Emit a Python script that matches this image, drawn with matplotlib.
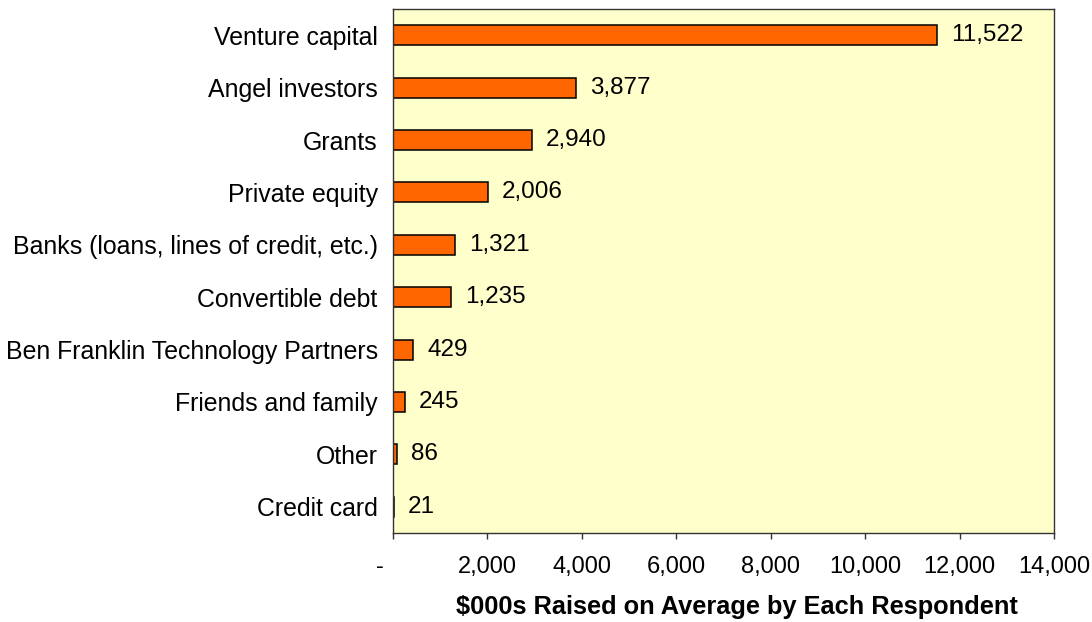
import matplotlib
matplotlib.use("Agg")
import matplotlib.pyplot as plt

# Average amount raised per respondent, by funding source ($000s)
sources = [
    "Venture capital",
    "Angel investors",
    "Grants",
    "Private equity",
    "Banks (loans, lines of credit, etc.)",
    "Convertible debt",
    "Ben Franklin Technology Partners",
    "Friends and family",
    "Other",
    "Credit card",
]
amounts = [11522, 3877, 2940, 2006, 1321, 1235, 429, 245, 86, 21]

x_ticks = [0, 2000, 4000, 6000, 8000, 10000, 12000, 14000]
x_tick_labels = ["-    ", "2,000", "4,000", "6,000", "8,000", "10,000", "12,000", "14,000"]

plt.rcParams["font.family"] = ["Liberation Sans", "DejaVu Sans"]

fig = plt.figure(figsize=(10.92, 6.22), dpi=100)
ax = fig.add_axes([0.3599, 0.1431, 0.6053, 0.8424])
ax.set_facecolor("#FFFFCC")

ypos = list(range(len(sources)))
ax.barh(ypos, amounts, height=0.38, color="#FF6600", edgecolor="black", linewidth=1.1)

for y, v in zip(ypos, amounts):
    ax.annotate(f"{v:,}", xy=(v, y), xytext=(10, 0), textcoords="offset points",
                va="center", ha="left", fontsize=17.5)

ax.set_ylim(len(sources) - 0.5, -0.5)
ax.set_yticks(ypos)
ax.set_yticklabels(sources, fontsize=17.9)
ax.tick_params(axis="y", length=0, pad=11)

ax.set_xlim(0, 14000)
ax.set_xticks(x_ticks)
ax.set_xticklabels(x_tick_labels, fontsize=17)
ax.tick_params(axis="x", length=4.3, width=1, direction="out", pad=12, color="#333333")

for spine in ax.spines.values():
    spine.set_color("#333333")
    spine.set_linewidth(1.0)

ax.set_xlabel("$000s Raised on Average by Each Respondent", fontsize=18.3,
              fontweight="bold")
ax.xaxis.set_label_coords(0.52, -0.118)

fig.savefig("out.png", dpi=100)
